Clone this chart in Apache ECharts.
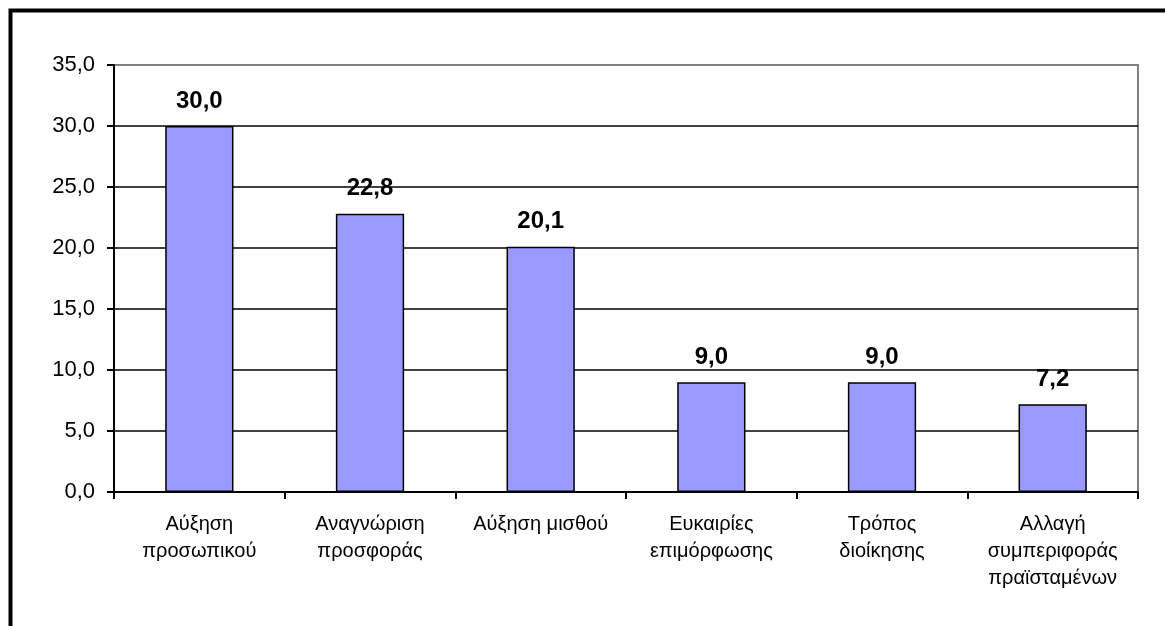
<!DOCTYPE html>
<html>
<head>
<meta charset="utf-8">
<script src="https://cdn.jsdelivr.net/npm/echarts@6/dist/echarts.min.js"></script>
<style>
html,body{margin:0;padding:0;background:#fff;}
#chart{width:1165px;height:626px;}
</style>
</head>
<body>
<div id="chart"></div>
<script>
const categories = ['Αύξηση\nπροσωπικού', 'Αναγνώριση\nπροσφοράς', 'Αύξηση μισθού', 'Ευκαιρίες\nεπιμόρφωσης', 'Τρόπος\nδιοίκησης', 'Αλλαγή\nσυμπεριφοράς\nπραϊσταμένων'];
const values = [30.0, 22.8, 20.1, 9.0, 9.0, 7.2];
const yMin = 0, yMax = 35, yInterval = 5;

const fmt = v => Number(v).toFixed(1).replace('.', ',');
const font = '"Liberation Sans", Arial, sans-serif';

const chart = echarts.init(document.getElementById('chart'), null, {renderer: 'canvas'});
chart.setOption({
  backgroundColor: '#ffffff',
  animation: false,
  graphic: [{
    type: 'rect',
    shape: {x: 10.5, y: 10.5, width: 3000, height: 3000},
    style: {fill: 'none', stroke: '#000', lineWidth: 4},
    silent: true
  }],
  grid: {
    left: 114, right: 27, top: 65, bottom: 134,
    show: true, borderColor: '#808080', borderWidth: 2, backgroundColor: 'transparent'
  },
  xAxis: {
    type: 'category',
    data: categories,
    axisLine: {lineStyle: {color: '#000', width: 2}},
    axisTick: {show: true, length: 7, lineStyle: {color: '#000', width: 2}},
    axisLabel: {
      color: '#000', fontFamily: font, fontSize: 20, lineHeight: 27, margin: 19, interval: 0
    }
  },
  yAxis: {
    type: 'value',
    min: yMin, max: yMax, interval: yInterval,
    axisLine: {show: true, lineStyle: {color: '#000', width: 2}},
    axisTick: {show: true, length: 7, lineStyle: {color: '#000', width: 2}},
    axisLabel: {color: '#000', fontFamily: font, fontSize: 22, margin: 19, formatter: fmt},
    splitLine: {show: true, showMaxLine: false, lineStyle: {color: '#000', width: 1.5}}
  },
  series: [{
    type: 'bar',
    data: values,
    barWidth: '40%',
    itemStyle: {color: '#9999FF', borderColor: '#000', borderWidth: 1.5},
    label: {
      show: true, position: 'top', distance: 13,
      color: '#000', fontFamily: font, fontSize: 24, fontWeight: 'bold',
      formatter: p => fmt(p.value)
    }
  }]
});
</script>
</body>
</html>
